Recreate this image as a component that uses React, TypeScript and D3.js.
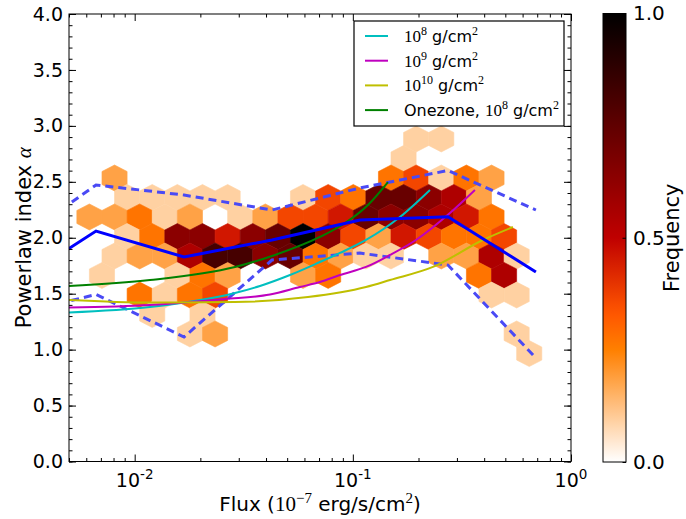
import { useEffect, useRef } from "react";
import * as d3 from "d3";

// binned median and spread of the data (flux in 1e-7 erg/s/cm2)
const binFlux = [0.00263, 0.00665, 0.01683, 0.04258, 0.1078, 0.2729, 0.6904];
const binMedian = [1.55, 2.06, 1.828, 1.98, 2.159, 2.188, 1.694];
const binUpper = [1.917, 2.472, 2.382, 2.248, 2.445, 2.601, 2.248];
const binLower = [1.30, 1.493, 1.113, 1.801, 1.863, 1.756, 0.925];

// model curves
const cyanFlux = [0.005, 0.01175, 0.02883, 0.03752, 0.0515, 0.07067, 0.0873, 0.1149, 0.1644, 0.2257];
const cyanAlpha = [1.332, 1.381, 1.506, 1.569, 1.667, 1.783, 1.864, 1.98, 2.185, 2.427];
const magentaFlux = [0.005, 0.01175, 0.02594, 0.04171, 0.05723, 0.07067, 0.0873, 0.1149, 0.148, 0.1947, 0.2787, 0.3628];
const magentaAlpha = [1.376, 1.399, 1.452, 1.493, 1.56, 1.604, 1.667, 1.739, 1.846, 1.98, 2.221, 2.427];
const yellowFlux = [0.005, 0.01175, 0.02883, 0.06228, 0.1149, 0.148, 0.233, 0.3947, 0.5418];
const yellowAlpha = [1.444, 1.421, 1.426, 1.47, 1.56, 1.622, 1.739, 1.98, 2.096];
const greenFlux = [0.005, 0.01175, 0.02883, 0.04396, 0.07067, 0.08915, 0.1173, 0.1449];
const greenAlpha = [1.569, 1.622, 1.739, 1.846, 2.007, 2.114, 2.293, 2.498];

const legendLabels = ["10^8", "10^9", "10^10", "Onezone, 10^8"];

// hexbin grid: log10(flux) of first column, column step, row centres (alpha)
const hexLogStart = -2.2075;
const hexLogStep = 0.1152;
const hexRowStep = 0.1743;
const hexRowAlpha = [2.883, 2.708, 2.534, 2.36, 2.186, 2.011, 1.837, 1.663, 1.488, 1.314, 1.14, 0.965];
// counts per cell, rows top to bottom; odd rows are shifted by half a column
const hexCounts = [
  [0, 0, 0, 0, 0, 0, 0, 0, 0, 0, 0, 0, 0, 1, 1, 0, 0, 0],
  [0, 0, 0, 0, 0, 0, 0, 0, 0, 0, 0, 0, 1, 0, 0, 0, 0, 0],
  [0, 2, 0, 0, 0, 0, 0, 0, 0, 0, 0, 0, 3, 4, 1, 3, 2, 0],
  [0, 1, 1, 1, 1, 1, 0, 0, 1, 4, 3, 8, 8, 7, 6, 2, 0, 0],
  [2, 2, 3, 1, 2, 0, 1, 2, 4, 4, 5, 8, 7, 7, 6, 5, 3, 0],
  [0, 1, 3, 7, 7, 5, 7, 8, 11, 7, 4, 2, 5, 4, 3, 3, 4, 0],
  [0, 1, 2, 2, 6, 9, 9, 7, 8, 3, 2, 1, 1, 0, 2, 2, 6, 1],
  [1, 0, 0, 1, 3, 2, 0, 0, 2, 3, 0, 0, 0, 0, 0, 3, 6, 0],
  [0, 0, 3, 1, 3, 4, 0, 0, 0, 0, 0, 0, 0, 0, 0, 0, 1, 1],
  [0, 0, 1, 0, 1, 0, 0, 0, 0, 0, 0, 0, 0, 0, 0, 0, 0, 0],
  [0, 0, 0, 0, 1, 2, 0, 0, 0, 0, 0, 0, 0, 0, 0, 0, 0, 1],
  [0, 0, 0, 0, 0, 0, 0, 0, 0, 0, 0, 0, 0, 0, 0, 0, 0, 1],
];
const maxCount = 11;

const yTicks = [0, 0.5, 1, 1.5, 2, 2.5, 3, 3.5, 4];
const xTicks = [0.01, 0.1, 1];
const cbTicks = [0, 0.5, 1];

// matplotlib gist_heat_r
function gistHeatR(v: number) {
  const t = 1 - v;
  const c = (u: number) => Math.round(255 * Math.max(0, Math.min(1, u)));
  return `rgb(${c(1.5 * t)},${c(2 * t - 1)},${c(4 * t - 3)})`;
}

const SANS = "DejaVu Sans";
const SERIF = "Liberation Serif";

export default function App() {
  const ref = useRef<SVGSVGElement | null>(null);

  useEffect(() => {
    const width = 686,
      height = 519;
    const margin = { top: 14, right: 115, bottom: 57.5, left: 69 };
    const svg = d3.select(ref.current);
    svg.selectAll("*").remove();

    const x = d3.scaleLog().domain([0.005, 1]).range([margin.left, width - margin.right]);
    const y = d3.scaleLinear().domain([0, 4]).range([height - margin.bottom, margin.top]);
    const L = margin.left,
      R = width - margin.right,
      T = margin.top,
      B = height - margin.bottom;

    const defs = svg.append("defs");
    defs
      .append("clipPath")
      .attr("id", "plot-clip")
      .append("rect")
      .attr("x", L)
      .attr("y", T)
      .attr("width", R - L)
      .attr("height", B - T);

    const plot = svg.append("g").attr("clip-path", "url(#plot-clip)");

    // hexbin cells
    const cells: { lf: number; a: number; v: number }[] = [];
    hexCounts.forEach((row, i) => {
      const shift = i % 2 === 1 ? hexLogStep / 2 : 0;
      row.forEach((n, m) => {
        if (n > 0) cells.push({ lf: hexLogStart + shift + m * hexLogStep, a: hexRowAlpha[i], v: n / maxCount });
      });
    });
    const hexPath = (d: { lf: number; a: number }) => {
      const hw = hexLogStep / 2,
        s = hexRowStep / 3,
        t = (2 * hexRowStep) / 3;
      const pts: [number, number][] = [
        [d.lf, d.a + t],
        [d.lf + hw, d.a + s],
        [d.lf + hw, d.a - s],
        [d.lf, d.a - t],
        [d.lf - hw, d.a - s],
        [d.lf - hw, d.a + s],
      ];
      return "M" + pts.map(([lf, a]) => `${x(Math.pow(10, lf))},${y(a)}`).join("L") + "Z";
    };
    plot
      .selectAll("path.hex")
      .data(cells)
      .enter()
      .append("path")
      .attr("class", "hex")
      .attr("d", hexPath)
      .attr("fill", d => gistHeatR(d.v))
      .attr("stroke", d => gistHeatR(d.v))
      .attr("stroke-width", 0.6);

    const line = d3
      .line<[number, number]>()
      .x(d => x(d[0]))
      .y(d => y(d[1]));
    const smooth = d3
      .line<[number, number]>()
      .x(d => x(d[0]))
      .y(d => y(d[1]))
      .curve(d3.curveMonotoneX);
    const zip = (a: number[], b: number[]) => a.map((v, i) => [v, b[i]] as [number, number]);

    // spread (dashed) and median
    [binUpper, binLower].forEach(arr => {
      plot
        .append("path")
        .attr("d", line(zip(binFlux, arr)))
        .attr("fill", "none")
        .attr("stroke", "#4a4af5")
        .attr("stroke-width", 3)
        .attr("stroke-dasharray", "8,5");
    });

    const models = [
      { fx: cyanFlux, fy: cyanAlpha, color: "#00bfbf" },
      { fx: magentaFlux, fy: magentaAlpha, color: "#bf00bf" },
      { fx: yellowFlux, fy: yellowAlpha, color: "#bfbf00" },
      { fx: greenFlux, fy: greenAlpha, color: "#008000" },
    ];
    models.forEach(m => {
      plot
        .append("path")
        .attr("d", smooth(zip(m.fx, m.fy)))
        .attr("fill", "none")
        .attr("stroke", m.color)
        .attr("stroke-width", 2);
    });

    plot
      .append("path")
      .attr("d", line(zip(binFlux, binMedian)))
      .attr("fill", "none")
      .attr("stroke", "#0000ff")
      .attr("stroke-width", 3);

    // axes (ticks pointing inwards on all four sides)
    const styleAxis = (g: d3.Selection<SVGGElement, unknown, null, undefined>) => {
      g.select(".domain").remove();
      g.selectAll("line").attr("stroke", "#000");
      g.selectAll("text").attr("font-family", SANS).attr("font-size", 19).attr("fill", "#000");
    };
    const minorY = d3.range(0, 41).map(i => i / 10);
    const minorX: number[] = [];
    [0.001, 0.01, 0.1].forEach(d => d3.range(2, 10).forEach(k => minorX.push(k * d)));
    const minorXIn = minorX.filter(v => v >= 0.005 && v <= 1);

    svg.append("g").attr("transform", `translate(${L},0)`)
      .call(d3.axisLeft(y).tickValues(yTicks).tickSize(-7).tickPadding(6).tickFormat(d3.format(".1f")))
      .call(styleAxis);
    svg.append("g").attr("transform", `translate(${L},0)`)
      .call(d3.axisLeft(y).tickValues(minorY).tickSize(-3.5).tickFormat(() => ""))
      .call(styleAxis);
    svg.append("g").attr("transform", `translate(${R},0)`)
      .call(d3.axisRight(y).tickValues(yTicks).tickSize(-7).tickFormat(() => ""))
      .call(styleAxis);
    svg.append("g").attr("transform", `translate(${R},0)`)
      .call(d3.axisRight(y).tickValues(minorY).tickSize(-3.5).tickFormat(() => ""))
      .call(styleAxis);
    svg.append("g").attr("transform", `translate(0,${B})`)
      .call(d3.axisBottom(x).tickValues(xTicks).tickSize(-7).tickFormat(() => ""))
      .call(styleAxis);
    svg.append("g").attr("transform", `translate(0,${B})`)
      .call(d3.axisBottom(x).tickValues(minorXIn).tickSize(-3.5).tickFormat(() => ""))
      .call(styleAxis);
    svg.append("g").attr("transform", `translate(0,${T})`)
      .call(d3.axisTop(x).tickValues(xTicks).tickSize(-7).tickFormat(() => ""))
      .call(styleAxis);
    svg.append("g").attr("transform", `translate(0,${T})`)
      .call(d3.axisTop(x).tickValues(minorXIn).tickSize(-3.5).tickFormat(() => ""))
      .call(styleAxis);

    // log tick labels 10^n
    xTicks.forEach(v => {
      const t = svg
        .append("text")
        .attr("x", x(v))
        .attr("y", B + 25.5)
        .attr("text-anchor", "middle")
        .attr("font-family", SANS)
        .attr("font-size", 19);
      t.append("tspan").text("10");
      t.append("tspan").attr("dy", -8).attr("font-size", 13.5).text(String(Math.round(Math.log10(v))));
    });

    svg
      .append("rect")
      .attr("x", L)
      .attr("y", T)
      .attr("width", R - L)
      .attr("height", B - T)
      .attr("fill", "none")
      .attr("stroke", "#000")
      .attr("stroke-width", 1);

    // axis titles
    const xl = svg
      .append("text")
      .attr("x", (L + R) / 2)
      .attr("y", 511)
      .attr("text-anchor", "middle")
      .attr("font-family", SANS)
      .attr("font-size", 20);
    xl.append("tspan").text("Flux (");
    xl.append("tspan").attr("font-family", SERIF).attr("font-size", 21).text("10");
    xl.append("tspan").attr("font-family", SERIF).attr("font-size", 15).attr("dy", -8).text("\u22127");
    xl.append("tspan").attr("dy", 8).text(" erg/s/cm");
    xl.append("tspan").attr("font-family", SERIF).attr("font-size", 15).attr("dy", -8).text("2");
    xl.append("tspan").attr("dy", 8).text(")");

    const yl = svg
      .append("text")
      .attr("transform", `translate(31,${(T + B) / 2}) rotate(-90)`)
      .attr("text-anchor", "middle")
      .attr("font-family", SANS)
      .attr("font-size", 21);
    yl.append("tspan").text("Powerlaw index ");
    yl.append("tspan").attr("font-family", SERIF).attr("font-style", "italic").text("\u03b1");

    // legend
    const lg = svg.append("g");
    const lx = 354,
      ly = 21,
      lw = 210,
      lh = 105;
    lg.append("rect")
      .attr("x", lx)
      .attr("y", ly)
      .attr("width", lw)
      .attr("height", lh)
      .attr("fill", "#fff")
      .attr("stroke", "#000")
      .attr("stroke-width", 1.2);
    legendLabels.forEach((lab, i) => {
      const cy = ly + 15 + i * 24.7;
      lg.append("line")
        .attr("x1", lx + 11)
        .attr("x2", lx + 34)
        .attr("y1", cy)
        .attr("y2", cy)
        .attr("stroke", models[i].color)
        .attr("stroke-width", 2);
      const [pre, exp] = lab.split("^");
      const base = pre.slice(-2);
      const head = pre.slice(0, -2);
      const t = lg
        .append("text")
        .attr("x", lx + 50)
        .attr("y", cy + 6)
        .attr("font-family", SANS)
        .attr("font-size", 16);
      if (head) t.append("tspan").text(head);
      t.append("tspan").attr("font-family", SERIF).attr("font-size", 17).text(base);
      t.append("tspan").attr("font-family", SERIF).attr("font-size", 12).attr("dy", -7).text(exp);
      t.append("tspan").attr("dy", 7).text(" g/cm");
      t.append("tspan").attr("font-family", SERIF).attr("font-size", 12).attr("dy", -7).text("2");
    });

    // colorbar
    const cbL = 603,
      cbW = 23;
    const cb = d3.scaleLinear().domain([0, 1]).range([462, 13.5]);
    const grad = defs
      .append("linearGradient")
      .attr("id", "cb-grad")
      .attr("x1", 0)
      .attr("y1", 1)
      .attr("x2", 0)
      .attr("y2", 0);
    d3.range(0, 41).forEach(i => {
      const v = i / 40;
      grad.append("stop").attr("offset", v).attr("stop-color", gistHeatR(v));
    });
    svg
      .append("rect")
      .attr("x", cbL)
      .attr("y", cb(1))
      .attr("width", cbW)
      .attr("height", cb(0) - cb(1))
      .attr("fill", "url(#cb-grad)")
      .attr("stroke", "#000")
      .attr("stroke-width", 1);
    svg.append("g").attr("transform", `translate(${cbL + cbW},0)`)
      .call(d3.axisRight(cb).tickValues(cbTicks).tickSize(-3.5).tickPadding(7).tickFormat(d3.format(".1f")))
      .call(styleAxis)
      .call(g => g.selectAll("text").attr("font-size", 20));
    svg
      .append("text")
      .attr("transform", `translate(679,${(cb(0) + cb(1)) / 2}) rotate(-90)`)
      .attr("text-anchor", "middle")
      .attr("font-family", SANS)
      .attr("font-size", 21)
      .text("Frequency");
  }, []);

  return (
    <svg
      ref={ref}
      width={686}
      height={519}
      style={{ position: "absolute", left: 0, top: 0, background: "#fff" }}
    />
  );
}
